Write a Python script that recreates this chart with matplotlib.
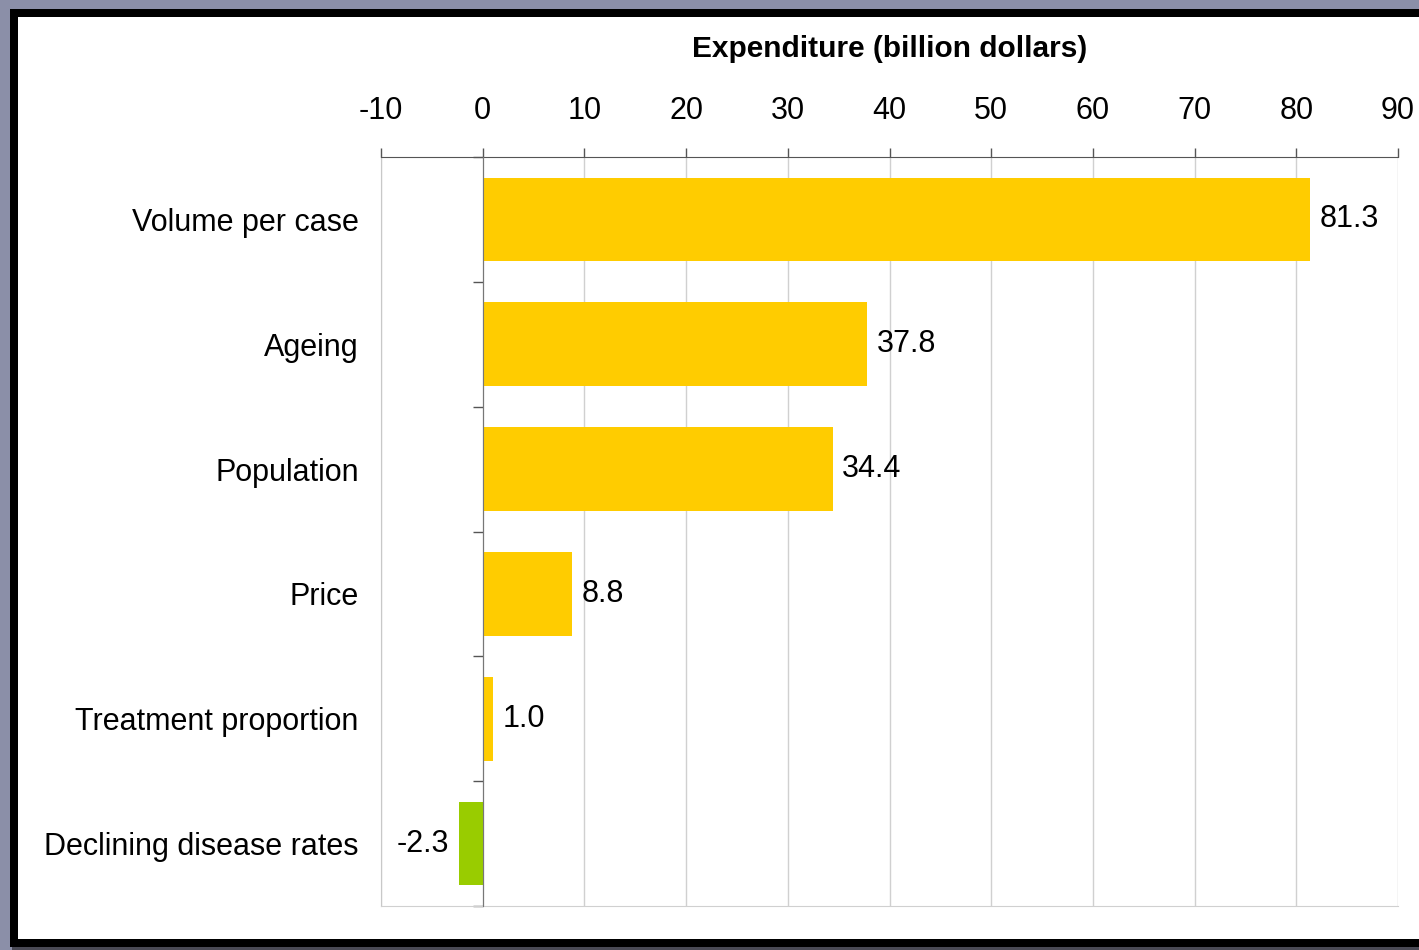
import matplotlib
matplotlib.use("Agg")
import matplotlib.pyplot as plt
from matplotlib.patches import Rectangle
from matplotlib.ticker import FixedLocator
import numpy as np

# Contributions to growth in expenditure, billion dollars
categories = ["Volume per case", "Ageing", "Population", "Price",
              "Treatment proportion", "Declining disease rates"]
values = [81.3, 37.8, 34.4, 8.8, 1.0, -2.3]
x_ticks = [-10, 0, 10, 20, 30, 40, 50, 60, 70, 80, 90]

POS_COLOR = "#FFCC00"
NEG_COLOR = "#99CC00"

plt.rcParams["font.family"] = ["Liberation Sans", "DejaVu Sans"]
plt.rcParams["font.size"] = 22

W, H = 1419, 950
fig = plt.figure(figsize=(W / 100, H / 100), dpi=100)
fig.patch.set_facecolor("#8B8FA8")


def px_rect(x0, y0, x1, y1, color):
    """Rectangle given in pixel coords (origin top-left)."""
    fig.add_artist(Rectangle((x0 / W, 1 - y1 / H), (x1 - x0) / W,
                             (y1 - y0) / H, transform=fig.transFigure,
                             facecolor=color, edgecolor="none", zorder=-10))


# frame around the chart area
px_rect(12, 11, W + 20, H, "#4A4A55")
px_rect(10, 9, W + 20, 947, "black")
px_rect(18, 17, W + 20, 939, "white")

ax = fig.add_axes([381 / W, 1 - 906 / H, (1398 - 381) / W, (906 - 157) / H])
ax.set_facecolor("white")

y = np.arange(len(categories))
colors = [POS_COLOR if v >= 0 else NEG_COLOR for v in values]
bars = ax.barh(y, values, height=0.67, color=colors, zorder=3)
ax.bar_label(bars, labels=[f"{v:.1f}" for v in values], padding=7,
             fontsize=22, zorder=4)

ax.set_xlim(-10, 90)
ax.set_ylim(len(categories) - 0.5, -0.5)

# value axis on top
ax.xaxis.tick_top()
ax.xaxis.set_label_position("top")
ax.set_xticks(x_ticks)
ax.set_xticklabels([str(t) for t in x_ticks])
ax.tick_params(axis="x", which="major", direction="out", length=6.5,
               width=1, color="#555555", pad=16)
ax.set_xlabel("Expenditure (billion dollars)", fontweight="bold",
              fontsize=21.5, labelpad=28)
ax.grid(axis="x", color="#D0D0D0", linewidth=1, zorder=0)

# category labels on the left, boundary ticks on the zero line
ax.set_yticks(y)
ax.set_yticklabels(categories)
ax.yaxis.set_minor_locator(FixedLocator(np.arange(len(categories) + 1) - 0.5))
ax.tick_params(axis="y", which="major", left=False, right=False,
               labelleft=True, labelright=False, pad=12.5)
ax.tick_params(axis="y", which="minor", left=False, right=True,
               direction="in", length=7, width=1, color="#555555")

ax.spines["right"].set_position(("data", 0))
ax.spines["right"].set_color("#777777")
ax.spines["right"].set_zorder(5)
ax.spines["top"].set_color("#555555")
ax.spines["left"].set_color("#C8C8C8")
ax.spines["bottom"].set_color("#D0D0D0")

fig.savefig("out.png", dpi=100, facecolor=fig.get_facecolor())
